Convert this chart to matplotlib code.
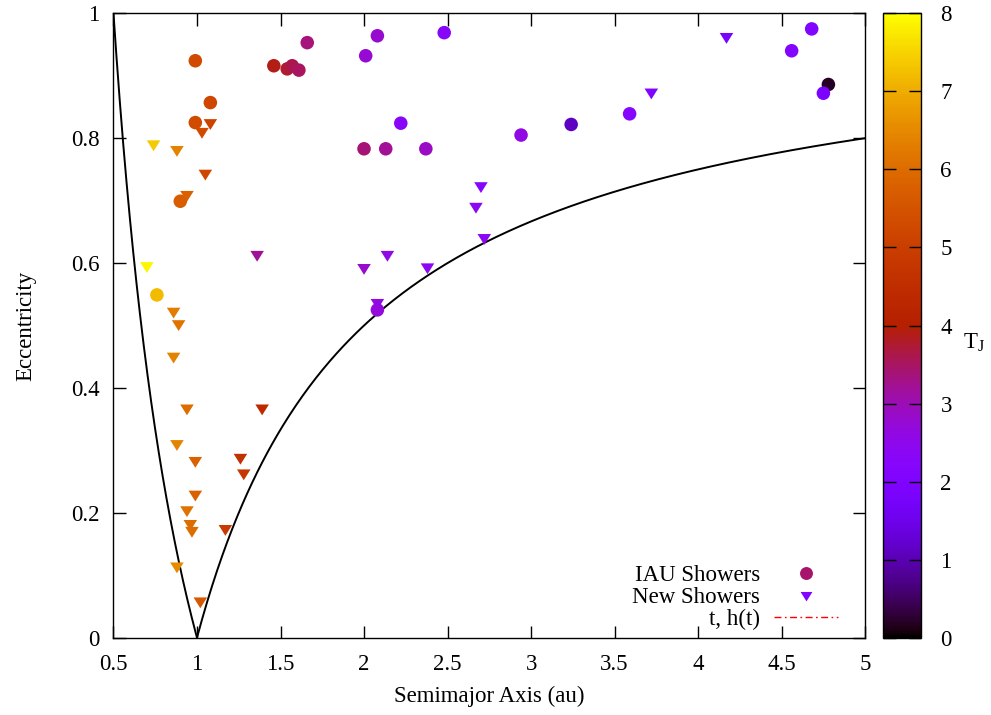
import numpy as np
import matplotlib.pyplot as plt
from matplotlib.lines import Line2D

plt.rcParams['font.family'] = ['Liberation Serif', 'DejaVu Serif']
plt.rcParams['font.size'] = 16.5
plt.rcParams['mathtext.fontset'] = 'stix'

# IAU showers: semimajor axis (au), eccentricity, Tisserand parameter
iau_a = [0.99, 1.08, 0.99, 0.90, 0.76, 1.46, 1.54, 1.57, 1.61, 1.66,
         2.08, 2.01, 2.48, 2.22, 2.00, 2.13, 2.37, 2.94, 3.24, 2.08,
         3.59, 4.68, 4.56, 4.78, 4.75]
iau_e = [0.924, 0.857, 0.825, 0.699, 0.549, 0.916, 0.911, 0.916, 0.909, 0.953,
         0.964, 0.932, 0.969, 0.824, 0.783, 0.783, 0.783, 0.805, 0.822, 0.525,
         0.839, 0.975, 0.940, 0.886, 0.872]
iau_tj = [5.3, 5.2, 5.3, 5.7, 7.2, 3.9, 3.75, 3.6, 3.5, 3.35,
          2.8, 2.75, 2.3, 2.3, 3.4, 3.2, 2.9, 2.6, 1.1, 2.7,
          2.2, 2.0, 2.1, 0.2, 1.9]

# New showers
new_a = [0.74, 0.88, 1.08, 1.03, 1.05, 0.94, 0.70, 1.36, 0.86, 0.89,
         0.86, 0.94, 1.39, 0.88, 0.99, 1.26, 1.28, 0.99, 0.94, 0.96,
         0.97, 1.17, 0.88, 1.02, 2.70, 2.67, 2.72, 2.14, 2.00, 2.38,
         2.08, 4.17, 3.72]
new_e = [0.790, 0.781, 0.824, 0.810, 0.743, 0.709, 0.595, 0.613, 0.522, 0.502,
         0.450, 0.367, 0.367, 0.310, 0.283, 0.288, 0.263, 0.229, 0.204, 0.182,
         0.171, 0.174, 0.114, 0.058, 0.723, 0.690, 0.640, 0.613, 0.592, 0.593,
         0.536, 0.962, 0.873]
new_tj = [7.4, 6.4, 5.1, 5.3, 5.2, 5.8, 7.9, 3.2, 6.3, 6.1,
          6.4, 6.0, 4.4, 6.4, 5.8, 4.6, 4.8, 5.8, 6.1, 6.0,
          6.0, 4.9, 6.5, 5.6, 2.2, 2.4, 2.4, 2.6, 2.8, 2.4,
          2.6, 1.8, 2.0]

cmap = plt.get_cmap('gnuplot')
tri = [(-1, 0.6), (1, 0.6), (0, -1.0), (-1, 0.6)]

fig = plt.figure(figsize=(9.91, 7.15), dpi=100)
ax = fig.add_axes([0.1145, 0.1081, 0.7585, 0.8733])
cax = fig.add_axes([0.8913, 0.1081, 0.038, 0.8733])

# aphelion = 1 au and perihelion = 1 au boundaries
a1 = np.linspace(0.5, 1.0, 200)
a2 = np.linspace(1.0, 5.0, 400)
ax.plot(a1, 1 / a1 - 1, color='black', lw=1.4, zorder=1)
ax.plot(a2, 1 - 1 / a2, color='black', lw=1.4, zorder=1)

sc = ax.scatter(iau_a, iau_e, c=iau_tj, cmap=cmap, vmin=0, vmax=8,
                s=95, marker='o', linewidths=0, zorder=2)
ax.scatter(new_a, new_e, c=new_tj, cmap=cmap, vmin=0, vmax=8,
           s=95, marker=tri, linewidths=0, zorder=3)

ax.set_xlim(0.5, 5)
ax.set_ylim(0, 1)
ax.set_xticks(np.arange(0.5, 5.01, 0.5))
ax.set_yticks(np.arange(0, 1.01, 0.2))
ax.xaxis.set_major_formatter('{x:g}')
ax.yaxis.set_major_formatter('{x:g}')
ax.tick_params(direction='in', length=9, width=1, top=True, right=True)
ax.tick_params(axis='x', pad=11.5)
ax.tick_params(axis='y', pad=10)
for sp in ax.spines.values():
    sp.set_linewidth(1.0)
ax.set_xlabel('Semimajor Axis (au)', labelpad=8)
ax.set_ylabel('Eccentricity', labelpad=25)

handles = [
    Line2D([], [], ls='none', marker='o', ms=9.3, mew=0,
           color=cmap(3.45 / 8)),
    Line2D([], [], ls='none', marker=tri, ms=8.5, mew=0,
           color=cmap(2.0 / 8)),
    Line2D([], [], color='red', lw=1, ls=(0, (5, 2.5, 1.2, 2.5))),
]
ax.legend(handles, ['IAU Showers', 'New Showers', 't, h(t)'],
          loc='lower right', bbox_to_anchor=(0.964, 0.012), frameon=False,
          markerfirst=False, handlelength=2.8, handletextpad=0.6,
          labelspacing=0.05, borderpad=0, borderaxespad=0, fontsize=16.5)

cb = fig.colorbar(sc, cax=cax)
cb.set_ticks(range(0, 9))
cb.outline.set_linewidth(1.0)
cax.tick_params(direction='in', length=9, width=1, left=True, right=True,
                pad=14)
cb.set_label(r'T$_\mathregular{J}$', rotation=0, ha='center', va='center')
cax.yaxis.set_label_coords(2.41, 0.474)

fig.savefig('out.png', dpi=100)
